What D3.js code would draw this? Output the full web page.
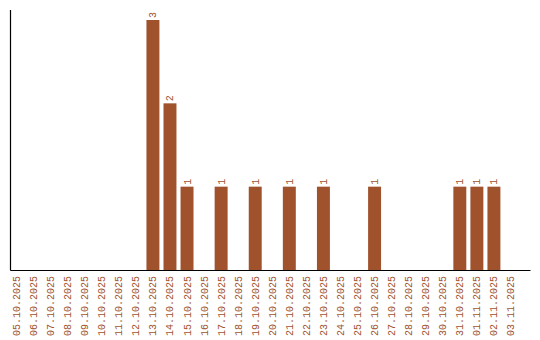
<html>
<head>
<meta charset="UTF-8">
<script src="https://cdn.jsdelivr.net/npm/d3@7"></script>
<style>
  body { margin: 0; background: #fff; }
  text { font-family: "Liberation Mono", monospace; font-size: 10px; fill: #a0522d; }
</style>
</head>
<body>
<div id="chart"></div>
<script>
var dates = ["05.10.2025","06.10.2025","07.10.2025","08.10.2025","09.10.2025","10.10.2025",
  "11.10.2025","12.10.2025","13.10.2025","14.10.2025","15.10.2025","16.10.2025","17.10.2025",
  "18.10.2025","19.10.2025","20.10.2025","21.10.2025","22.10.2025","23.10.2025","24.10.2025",
  "25.10.2025","26.10.2025","27.10.2025","28.10.2025","29.10.2025","30.10.2025","31.10.2025",
  "01.11.2025","02.11.2025","03.11.2025"];
var counts = [0,0,0,0,0,0,0,0,3,2,1,0,1,0,1,0,1,0,1,0,0,1,0,0,0,0,1,1,1,0];

var W = 540, H = 340, BASE = 270, TOP = 10, LEFT = 10.5, RIGHT = 530.5;
var svg = d3.select("#chart").append("svg").attr("width", W).attr("height", H);

var x = d3.scaleBand().domain(dates).range([8, 519.5]).paddingInner(0.24).paddingOuter(0.12);
var y = d3.scaleLinear().domain([0, 3]).range([BASE, 20]);

var rows = dates.map(function(d, i){ return {date: d, n: counts[i]}; });

svg.selectAll("rect.bar").data(rows.filter(function(d){ return d.n > 0; })).enter()
  .append("rect").attr("class", "bar")
  .attr("x", function(d){ return x(d.date); })
  .attr("y", function(d){ return y(d.n); })
  .attr("width", x.bandwidth())
  .attr("height", function(d){ return BASE - y(d.n); })
  .style("fill", "#a0522d");

// value labels
svg.selectAll("text.val").data(rows.filter(function(d){ return d.n > 0; })).enter()
  .append("text").attr("class", "val")
  .attr("transform", function(d){
    var cx = x(d.date) + x.bandwidth() / 2;
    return "translate(" + (cx + 3.5) + "," + (y(d.n) - 2) + ") rotate(-90)";
  })
  .attr("text-anchor", "start")
  .text(function(d){ return d.n; });

// date labels
svg.selectAll("text.date").data(dates).enter()
  .append("text").attr("class", "date")
  .attr("transform", function(d){
    var cx = x(d) + x.bandwidth() / 2;
    return "translate(" + (cx + 3.5) + "," + (BASE + 6) + ") rotate(-90)";
  })
  .attr("text-anchor", "end")
  .text(function(d){ return d; });

// axes lines
svg.append("line").attr("x1", LEFT).attr("y1", TOP).attr("x2", LEFT).attr("y2", BASE + 0.5)
  .style("stroke", "#000").style("stroke-width", 1.2);
svg.append("line").attr("x1", LEFT).attr("y1", BASE + 0.5).attr("x2", RIGHT).attr("y2", BASE + 0.5)
  .style("stroke", "#000").style("stroke-width", 1.2);
</script>
</body>
</html>
